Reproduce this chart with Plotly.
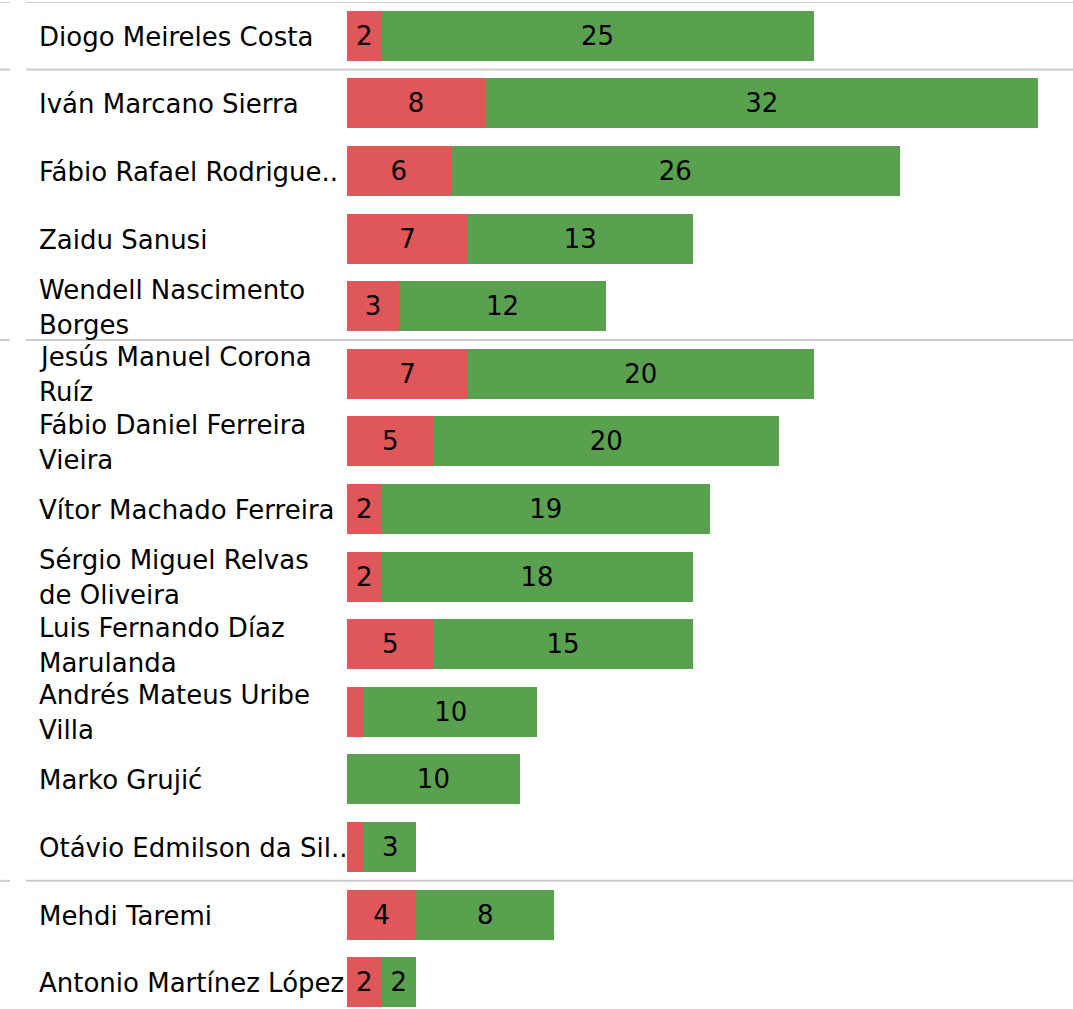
import plotly.graph_objects as go

# Players as they appear on the chart, top to bottom ("\n" marks a wrapped name)
labels = [
    "Diogo Meireles Costa",
    "Iván Marcano Sierra",
    "Fábio Rafael Rodrigue..",
    "Zaidu Sanusi",
    "Wendell Nascimento\nBorges",
    "Jesús Manuel Corona\nRuíz",
    "Fábio Daniel Ferreira\nVieira",
    "Vítor Machado Ferreira",
    "Sérgio Miguel Relvas\nde Oliveira",
    "Luis Fernando Díaz\nMarulanda",
    "Andrés Mateus Uribe\nVilla",
    "Marko Grujić",
    "Otávio Edmilson da Sil..",
    "Mehdi Taremi",
    "Antonio Martínez López",
]
red_values = [2, 8, 6, 7, 3, 7, 5, 2, 2, 5, 1, 0, 1, 4, 2]
green_values = [25, 32, 26, 13, 12, 20, 20, 19, 18, 15, 10, 10, 3, 8, 2]
# Last row index of each position group (separator drawn below it)
group_ends = [0, 4, 12]

RED = "#e15759"
GREEN = "#59a14f"
FONT = "DejaVu Sans"
FS = 26

W, H = 1073, 1009
L, R, T, B = 347, 0, 2, 0
plot_w = W - L - R

cats = [lab.replace("\n", " ") for lab in labels]


def bar_text(vals):
    return [str(v) if v > 1 else "" for v in vals]


fig = go.Figure()
for vals, color in ((red_values, RED), (green_values, GREEN)):
    fig.add_trace(go.Bar(
        y=cats, x=vals, orientation="h",
        marker=dict(color=color, line=dict(width=0)),
        text=bar_text(vals), textposition="inside",
        insidetextanchor="middle", textangle=0,
        textfont=dict(family=FONT, size=FS, color="black"),
        hoverinfo="skip",
    ))

# Player names, left aligned in the margin
line_gap = 35
for cat, lab in zip(cats, labels):
    parts = lab.split("\n")
    n = len(parts)
    for i, part in enumerate(parts):
        fig.add_annotation(
            x=(37 - L) / plot_w, xref="paper", xanchor="left",
            y=cat, yref="y", yanchor="middle",
            yshift=((n - 1) / 2 - i) * line_gap - 1,
            text=part, showarrow=False,
            font=dict(family=FONT, size=FS, color="black"),
        )

# Group separators
for b in [-1] + group_ends:
    yy = b + 0.5
    fig.add_shape(type="line", xref="paper", yref="y",
                  x0=(26 - L) / plot_w, x1=1, y0=yy, y1=yy,
                  line=dict(color="#cccccc", width=2))
    fig.add_shape(type="line", xref="paper", yref="y",
                  x0=-L / plot_w, x1=(10 - L) / plot_w, y0=yy, y1=yy,
                  line=dict(color="#cccccc", width=2))

fig.update_layout(
    barmode="stack", bargap=0.26, showlegend=False,
    width=W, height=H,
    margin=dict(l=L, r=R, t=T, b=B, pad=0),
    plot_bgcolor="white", paper_bgcolor="white",
    xaxis=dict(range=[0, plot_w / 17.28], visible=False, fixedrange=True),
    yaxis=dict(type="category", categoryorder="array", categoryarray=cats,
               range=[14.396, -0.5], visible=False, fixedrange=True),
)

fig.write_html("out.html", config={"displayModeBar": False})
